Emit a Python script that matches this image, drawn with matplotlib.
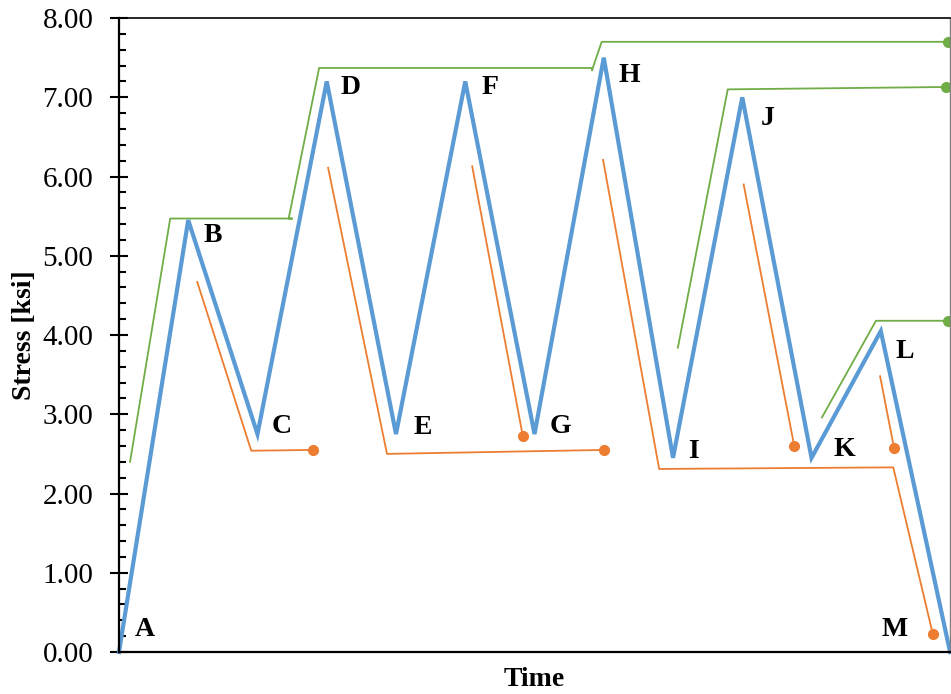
import numpy as np
import matplotlib.pyplot as plt

# Load path A-M (time steps, stress in ksi)
t_path = np.arange(13)
s_path = [0.0, 5.45, 2.75, 7.20, 2.75, 7.20, 2.75, 7.50, 2.45, 7.00, 2.45, 4.05, 0.0]
names = ['A', 'B', 'C', 'D', 'E', 'F', 'G', 'H', 'I', 'J', 'K', 'L', 'M']
lab_x = [0.38, 1.36, 2.35, 3.35, 4.38, 5.36, 6.38, 7.37, 8.29, 9.36, 10.48, 11.35, 11.20]
lab_y = [0.28, 5.25, 2.84, 7.12, 2.83, 7.12, 2.84, 7.28, 2.53, 6.73, 2.55, 3.79, 0.28]

# Loading branches (green)
g1_x = [0.16, 0.74, 2.50, 2.45, 2.89, 6.83, 6.83, 6.97, 11.97]
g1_y = [2.40, 5.47, 5.47, 5.47, 7.37, 7.37, 7.34, 7.70, 7.70]
g2_x = [8.07, 8.79, 11.94]
g2_y = [3.84, 7.10, 7.13]
g3_x = [10.15, 10.93, 11.97]
g3_y = [2.96, 4.18, 4.18]

# Unloading branches (orange)
o1_x = [1.13, 1.91, 2.80]
o1_y = [4.67, 2.54, 2.55]
o2_x = [3.02, 3.87, 7.00]
o2_y = [6.11, 2.50, 2.55]
o3_x = [5.10, 5.83]
o3_y = [6.13, 2.73]
o4_x = [6.99, 7.80, 11.18, 11.75]
o4_y = [6.21, 2.31, 2.33, 0.23]
o5_x = [9.02, 9.75]
o5_y = [5.90, 2.60]
o6_x = [10.99, 11.19]
o6_y = [3.48, 2.58]

plt.rcParams['font.family'] = ['Liberation Serif', 'DejaVu Serif']

blue, orange, green = '#5B9BD5', '#ED7D31', '#70AD47'

fig = plt.figure(figsize=(9.51, 6.94), dpi=100)
ax = fig.add_axes([0.1251, 0.0605, 0.8739, 0.9135])

for xs, ys in [(g1_x, g1_y), (g2_x, g2_y), (g3_x, g3_y)]:
    ax.plot(xs, ys, '-', color=green, linewidth=1.3, clip_on=False)
    ax.plot(xs[-1], ys[-1], 'o', color=green, markersize=7, clip_on=False)

for xs, ys in [(o1_x, o1_y), (o2_x, o2_y), (o3_x, o3_y), (o4_x, o4_y), (o5_x, o5_y), (o6_x, o6_y)]:
    ax.plot(xs, ys, '-', color=orange, linewidth=1.3)
    ax.plot(xs[-1], ys[-1], 'o', color=orange, markersize=7)

ax.plot(t_path, s_path, '-', color=blue, linewidth=3.0, solid_joinstyle='miter', clip_on=False)

for n, x, y in zip(names, lab_x, lab_y):
    ax.text(x, y, n, fontsize=20, fontweight='bold', ha='center', va='center')

ax.set_xlim(0, 12)
ax.set_ylim(0, 8)
ax.set_xticks([])
ax.set_yticks(np.arange(0, 8.1, 1))
ax.set_yticks(np.arange(0, 8.01, 0.2), minor=True)
ax.set_yticklabels([f'{v:.2f}' for v in np.arange(0, 8.1, 1)])
ax.tick_params(axis='y', which='major', direction='inout', length=13, width=1.5, labelsize=21, pad=12)
ax.tick_params(axis='y', which='minor', direction='in', length=5, width=1.5)

ax.spines['left'].set_linewidth(1.6)
ax.spines['bottom'].set_linewidth(1.6)
ax.spines['top'].set_linewidth(1.2)
ax.spines['right'].set_color('#808080')
ax.spines['right'].set_linewidth(1.0)

ax.set_xlabel('Time', fontsize=20, fontweight='bold', labelpad=11)
ax.set_ylabel('Stress [ksi]', fontsize=20, fontweight='bold', labelpad=4)

fig.savefig('out.png', dpi=100)
